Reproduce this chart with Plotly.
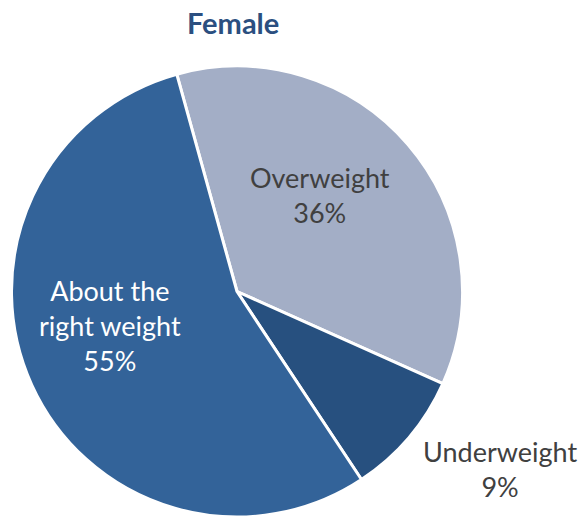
import plotly.graph_objects as go

# Self-reported weight perception, female respondents
labels = ["Overweight", "Underweight", "About the<br>right weight"]
values = [36, 9, 55]
colors = ["#A3AEC6", "#27507F", "#336399"]
text_colors = ["#404040", "#404040", "#FFFFFF"]

# label anchor points (paper coordinates) for each slice
label_x = [320 / 581, 500 / 581, 110 / 581]
label_y = [1 - 195 / 517, 1 - 469 / 517, 1 - 325 / 517]

FONT = "Lato, 'Open Sans', sans-serif"

fig = go.Figure(
    go.Pie(
        labels=labels,
        values=values,
        sort=False,
        direction="clockwise",
        rotation=-15.5,
        marker=dict(colors=colors, line=dict(color="#FFFFFF", width=3)),
        textinfo="none",
        hoverinfo="label+percent",
        showlegend=False,
        domain=dict(x=[11 / 581, 463 / 581], y=[0, 1 - 66 / 517]),
    )
)

total = sum(values)
for lab, v, c, x, y in zip(labels, values, text_colors, label_x, label_y):
    pct = round(100 * v / total)
    fig.add_annotation(
        x=x, y=y, xref="paper", yref="paper",
        text=f"{lab}<br>{pct}%",
        showarrow=False,
        font=dict(family=FONT, size=27, color=c),
        align="center",
        xanchor="center", yanchor="middle",
    )

fig.add_annotation(
    x=233 / 581, y=1 - 23 / 517, xref="paper", yref="paper",
    text="<b>Female</b>", showarrow=False,
    font=dict(family=FONT, size=29, color="#2B4F80"),
    xanchor="center", yanchor="middle",
)

fig.update_layout(
    width=581, height=517,
    margin=dict(l=0, r=0, t=0, b=0),
    paper_bgcolor="#FFFFFF",
    plot_bgcolor="#FFFFFF",
)

fig.write_html("out.html")
